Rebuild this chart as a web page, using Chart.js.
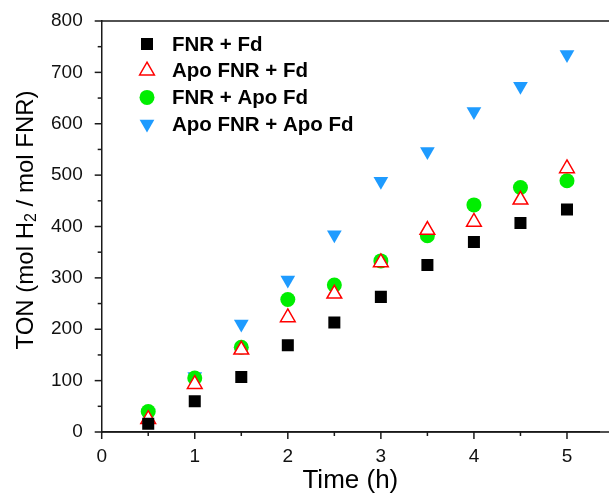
<!DOCTYPE html>
<html>
<head>
<meta charset="utf-8">
<script src="https://cdn.jsdelivr.net/npm/chart.js@4"></script>
<style>
  html, body { margin: 0; padding: 0; background: #fff; }
  #wrap { width: 609px; height: 499px; }
</style>
</head>
<body>
<div id="wrap"><canvas id="tonChart" width="609" height="499"></canvas></div>
<script>
// --- Data ---
const timeH = [0.5, 1, 1.5, 2, 2.5, 3, 3.5, 4, 4.5, 5];
const fnrFd = [16, 60, 107, 169, 213, 263, 325, 370, 407, 433];
const apoFnrFd = [25, 93, 160, 223, 269, 330, 393, 409, 452, 513];
const fnrApoFd = [40, 105, 165, 258, 286, 333, 382, 442, 476, 489];
const apoFnrApoFd = [37, 108, 210, 296, 384, 488, 546, 624, 673, 735];
const xTickLabels = [0, 1, 2, 3, 4, 5];
const yTickLabels = [0, 100, 200, 300, 400, 500, 600, 700, 800];

const toPoints = (ys) => timeH.map((x, i) => ({ x: x, y: ys[i] }));
const axisColor = '#1a1a1a';
const font = 'Arial, "Liberation Sans", sans-serif';

// major ticks from the label arrays, minor ticks halfway between them
function withMinor(majors) {
    const out = [];
    majors.forEach((v, i) => {
        out.push({ value: v });
        if (i < majors.length - 1) out.push({ value: (v + majors[i + 1]) / 2 });
    });
    return out;
}

function drawMarker(ctx, ds, x, y) {
    ctx.save();
    ctx.fillStyle = ds.backgroundColor;
    ctx.strokeStyle = ds.borderColor;
    ctx.lineWidth = ds.borderWidth;
    Chart.helpers.drawPoint(ctx, {
        pointStyle: ds.pointStyle,
        radius: ds.pointRadius,
        rotation: ds.pointRotation || 0,
        borderWidth: ds.borderWidth
    }, x, y);
    ctx.restore();
}

// axes box (top line), outward ticks, y title with subscript, inset legend
const decorPlugin = {
    id: 'decor',
    afterDraw(chart) {
        const ctx = chart.ctx;
        const area = chart.chartArea;
        const xs = chart.scales.x;
        const ys = chart.scales.y;
        ctx.save();
        ctx.strokeStyle = axisColor;
        ctx.lineWidth = 1.5;

        // top border and bottom axis run to the canvas edge (plot is cut off there)
        ctx.beginPath();
        ctx.moveTo(area.left, area.top);
        ctx.lineTo(chart.width, area.top);
        ctx.moveTo(area.left, area.bottom);
        ctx.lineTo(chart.width, area.bottom);
        ctx.stroke();

        // x ticks
        xs.ticks.forEach(t => {
            const px = xs.getPixelForValue(t.value);
            const len = xTickLabels.includes(t.value) ? 7 : 4;
            ctx.beginPath();
            ctx.moveTo(px, area.bottom);
            ctx.lineTo(px, area.bottom + len);
            ctx.stroke();
        });
        // y ticks
        ys.ticks.forEach(t => {
            const py = ys.getPixelForValue(t.value);
            const len = yTickLabels.includes(t.value) ? 7 : 4;
            ctx.beginPath();
            ctx.moveTo(area.left, py);
            ctx.lineTo(area.left - len, py);
            ctx.stroke();
        });

        // y axis title with subscript 2
        ctx.fillStyle = '#000';
        ctx.textBaseline = 'middle';
        ctx.textAlign = 'left';
        const big = '24px ' + font;
        const small = '16px ' + font;
        const parts = [
            { t: 'TON (mol H', f: big, dy: 0 },
            { t: '2', f: small, dy: 6 },
            { t: ' / mol FNR)', f: big, dy: 0 }
        ];
        let total = 0;
        parts.forEach(p => { ctx.font = p.f; p.w = ctx.measureText(p.t).width; total += p.w; });
        ctx.translate(26, 220);
        ctx.rotate(-Math.PI / 2);
        let cx = -total / 2;
        parts.forEach(p => {
            ctx.font = p.f;
            ctx.fillText(p.t, cx, p.dy);
            cx += p.w;
        });
        ctx.restore();

        // legend inside plot, top-left
        ctx.save();
        ctx.font = 'bold 20.5px ' + font;
        ctx.textBaseline = 'middle';
        ctx.textAlign = 'left';
        chart.data.datasets.forEach((ds, i) => {
            const y = 44 + i * 26.7;
            drawMarker(ctx, ds, 147, y);
            ctx.fillStyle = '#000';
            ctx.fillText(ds.label, 172, y + 1);
        });
        ctx.restore();
    }
};

const ctx = document.getElementById('tonChart').getContext('2d');
new Chart(ctx, {
    type: 'scatter',
    data: {
        datasets: [
            { label: 'FNR + Fd', data: toPoints(fnrFd), pointStyle: 'rect', pointRadius: 8.5, pointRotation: 0, backgroundColor: '#000000', borderColor: '#000000', borderWidth: 0 },
            { label: 'Apo FNR + Fd', data: toPoints(apoFnrFd), pointStyle: 'triangle', pointRadius: 8.5, pointRotation: 0, backgroundColor: '#ffffff', borderColor: '#ff0000', borderWidth: 1.5 },
            { label: 'FNR + Apo Fd', data: toPoints(fnrApoFd), pointStyle: 'circle', pointRadius: 7.5, pointRotation: 0, backgroundColor: '#00ee00', borderColor: '#00ee00', borderWidth: 0 },
            { label: 'Apo FNR + Apo Fd', data: toPoints(apoFnrApoFd), pointStyle: 'triangle', pointRadius: 8.5, pointRotation: 180, backgroundColor: '#1e9bff', borderColor: '#1e9bff', borderWidth: 0 }
        ]
    },
    options: {
        responsive: false,
        animation: false,
        events: [],
        layout: { padding: { top: 21, right: 0, left: 0, bottom: 0 } },
        plugins: { legend: { display: false }, tooltip: { enabled: false } },
        scales: {
            x: {
                type: 'linear',
                min: 0,
                max: 5.344,
                afterBuildTicks: (scale) => { scale.ticks = withMinor(xTickLabels); },
                afterFit: (scale) => {
                    scale.height = 67;
                    scale.paddingLeft = 0;
                    scale.paddingRight = 0;
                },
                grid: { display: false },
                border: { display: true, color: axisColor, width: 1.5 },
                ticks: {
                    autoSkip: false,
                    maxRotation: 0,
                    padding: 5,
                    color: '#111',
                    font: { family: font, size: 19 },
                    callback: (v) => xTickLabels.includes(v) ? String(v) : ''
                },
                title: { display: true, text: 'Time (h)', color: '#000', font: { family: font, size: 26 }, padding: { top: 0, bottom: 3 } }
            },
            y: {
                min: 0,
                max: 800,
                afterBuildTicks: (scale) => { scale.ticks = withMinor(yTickLabels); },
                afterFit: (scale) => {
                    scale.width = 101.7;
                    scale.paddingTop = 0;
                    scale.paddingBottom = 0;
                },
                grid: { display: false },
                border: { display: true, color: axisColor, width: 1.5 },
                ticks: {
                    autoSkip: false,
                    padding: 11,
                    color: '#111',
                    font: { family: font, size: 19 },
                    callback: (v) => yTickLabels.includes(v) ? String(v) : ''
                }
            }
        }
    },
    plugins: [decorPlugin]
});
</script>
</body>
</html>
